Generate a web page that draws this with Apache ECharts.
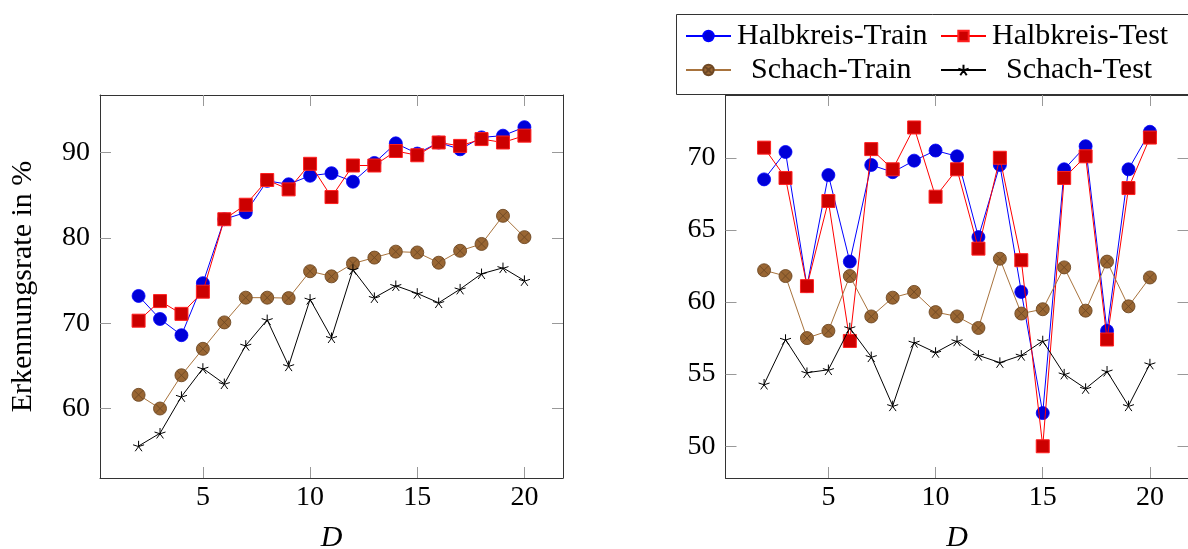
<!DOCTYPE html>
<html>
<head>
<meta charset="utf-8">
<script src="https://cdn.jsdelivr.net/npm/echarts@6/dist/echarts.min.js"></script>
<style>
html,body{margin:0;padding:0;background:#fff;}
#c{width:1188px;height:549px;}
</style>
</head>
<body>
<div id="c"></div>
<script>
// ---- data ----
const D = [2,3,4,5,6,7,8,9,10,11,12,13,14,15,16,17,18,19,20];
const seriesNames = ['Halbkreis-Train','Halbkreis-Test','Schach-Train','Schach-Test'];
const xTicks = [5,10,15,20];
const leftYTicks = [60,70,80,90];
const rightYTicks = [50,55,60,65,70];
const yAxisTitle = 'Erkennungsrate in %';
const xAxisTitle = 'D';

const leftHalbTrain   = [73.2,70.5,68.6,74.7,82.2,83.0,86.7,86.3,87.3,87.6,86.6,88.8,91.1,89.9,91.2,90.4,91.8,92.0,93.0];
const leftHalbTest    = [70.3,72.6,71.1,73.7,82.2,83.9,86.8,85.7,88.7,84.8,88.5,88.5,90.2,89.7,91.2,90.8,91.6,91.2,92.0];
const leftSchachTrain = [61.6,60.0,63.9,67.0,70.1,73.0,73.0,72.95,76.1,75.5,77.0,77.7,78.4,78.3,77.1,78.5,79.3,82.6,80.1];
const leftSchachTest  = [55.6,57.1,61.4,64.7,62.9,67.4,70.4,65.0,72.8,68.3,76.3,73.0,74.4,73.5,72.4,74.0,75.8,76.5,75.0];

const rightHalbTrain   = [68.5,70.4,61.1,68.8,62.8,69.5,69.0,69.8,70.5,70.1,64.5,69.5,60.7,52.3,69.2,70.8,58.0,69.2,71.8];
const rightHalbTest    = [70.7,68.6,61.1,67.0,57.3,70.6,69.2,72.1,67.3,69.2,63.7,70.0,62.9,50.0,68.6,70.1,57.4,67.9,71.4];
const rightSchachTrain = [62.2,61.8,57.5,58.0,61.8,59.0,60.3,60.7,59.3,59.0,58.2,63.0,59.2,59.5,62.4,59.4,62.8,59.7,61.7];
const rightSchachTest  = [54.3,57.4,55.1,55.3,58.2,56.2,52.8,57.2,56.5,57.3,56.3,55.8,56.3,57.3,55.0,54.0,55.2,52.8,55.7];

// ---- styles ----
const FONT = '"Liberation Serif","DejaVu Serif",serif';
const STAR = 'path://M0,-10L0,0M9.51,-3.09L0,0M5.88,8.09L0,0M-5.88,8.09L0,0M-9.51,-3.09L0,0';
const OTIMES = 'path://M10,0A10,10,0,1,1,-10,0A10,10,0,1,1,10,0ZM7.07,7.07L-7.07,-7.07M-7.07,7.07L7.07,-7.07';
const styles = [
  {line:'#0000ff', symbol:'circle', size:13, fill:'#0000d8', border:'#0000ff', bw:0.8},
  {line:'#ff0000', symbol:'rect', size:13, fill:'#cc0000', border:'#ff2020', bw:1},
  {line:'#a8733d', symbol:OTIMES, size:13, fill:'#996633', border:'#6e4824', bw:0.9},
  {line:'#000000', symbol:STAR, size:11, fill:'#000000', border:'#000000', bw:1}
];

function mkSeries(name, idx, vals, axisIdx){
  const s = styles[idx];
  return {
    type:'line', name:name, xAxisIndex:axisIdx, yAxisIndex:axisIdx,
    data: D.map((d,i)=>[d, vals[i]]),
    symbol:s.symbol, symbolSize:s.size, symbolKeepAspect:true,
    lineStyle:{color:s.line, width:1},
    itemStyle:{color:s.fill, borderColor:s.border, borderWidth:s.bw},
    emphasis:{disabled:true}, animation:false, z:2+idx
  };
}

const axisLineStyle = {show:true, lineStyle:{color:'#333', width:1}};
const tickStyle = (vals)=>({show:true, inside:true, length:11, lineStyle:{color:'#999', width:1}, customValues:vals});
function xAxes(grid){
  const base = {type:'value', gridIndex:grid, min:0.2, max:21.8, splitLine:{show:false}, axisLine:axisLineStyle};
  return [
    Object.assign({}, base, {position:'bottom', axisTick:tickStyle(xTicks),
      axisLabel:{show:true, margin:6, color:'#000', fontFamily:FONT, fontSize:28, customValues:xTicks},
      name:xAxisTitle, nameLocation:'middle', nameGap:45,
      nameTextStyle:{fontFamily:FONT, fontSize:30, fontStyle:'italic', color:'#000'}}),
    Object.assign({}, base, {position:'top', axisTick:tickStyle(xTicks), axisLabel:{show:false}})
  ];
}
function yAxes(grid, min, max, ticks, withName){
  const base = {type:'value', gridIndex:grid, min:min, max:max, splitLine:{show:false}, axisLine:axisLineStyle};
  const left = Object.assign({}, base, {position:'left', axisTick:tickStyle(ticks),
      axisLabel:{show:true, margin:10, color:'#000', fontFamily:FONT, fontSize:28, customValues:ticks}});
  if(withName){
    left.name = yAxisTitle; left.nameLocation='middle'; left.nameGap=62;
    left.nameTextStyle = {fontFamily:FONT, fontSize:30, color:'#000'};
  }
  return [left, Object.assign({}, base, {position:'right', axisTick:tickStyle(ticks), axisLabel:{show:false}})];
}

const xA = xAxes(0).concat(xAxes(1));
const yA = yAxes(0, 51.85, 96.77, leftYTicks, true).concat(yAxes(1, 47.8, 74.35, rightYTicks, false));

const series = [
  mkSeries(seriesNames[0],0,leftHalbTrain,0),
  mkSeries(seriesNames[1],1,leftHalbTest,0),
  mkSeries(seriesNames[2],2,leftSchachTrain,0),
  mkSeries(seriesNames[3],3,leftSchachTest,0),
  mkSeries(seriesNames[0],0,rightHalbTrain,2),
  mkSeries(seriesNames[1],1,rightHalbTest,2),
  mkSeries(seriesNames[2],2,rightSchachTrain,2),
  mkSeries(seriesNames[3],3,rightSchachTest,2)
];

function legendAt(name, left, top, padLeft){
  return {data:[name], left:left, top:top, orient:'horizontal', itemWidth:45, itemHeight:13, itemGap:0,
    selectedMode:false, padding:0,
    textStyle:{fontFamily:FONT, fontSize:30, color:'#000', padding:[0,0,0,padLeft], lineHeight:34}};
}

const option = {
  backgroundColor:'#fff', animation:false,
  grid:[
    {left:100, top:95, width:463, height:383, containLabel:false, outerBoundsMode:'none'},
    {left:725.5, top:95, width:463, height:383, containLabel:false, outerBoundsMode:'none'}
  ],
  xAxis:xA, yAxis:yA,
  legend:[
    legendAt(seriesNames[0], 685, 19, 1),
    legendAt(seriesNames[1], 940, 19, 1),
    legendAt(seriesNames[2], 685, 53, 15),
    legendAt(seriesNames[3], 940, 53, 15)
  ],
  graphic:[{type:'rect', shape:{x:676.5, y:14.5, width:520, height:80},
    style:{fill:'none', stroke:'#333', lineWidth:1}, z:100, silent:true}],
  series:series
};
const chart = echarts.init(document.getElementById('c'), null, {renderer:'canvas'});
chart.setOption(option);
</script>
</body>
</html>
